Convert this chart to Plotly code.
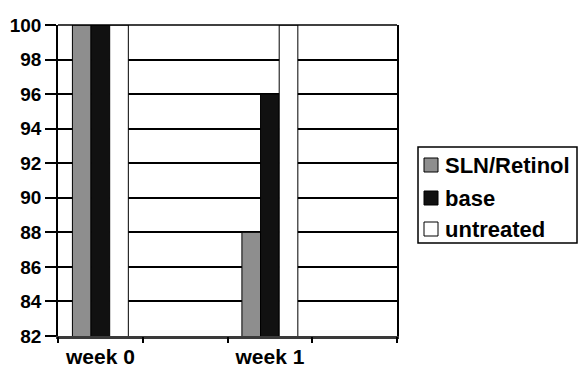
import plotly.graph_objects as go

categories = ["week 0", "", "week 1", ""]
series_names = ["SLN/Retinol", "base", "untreated"]
sln_retinol = [100, None, 88, None]
base = [100, None, 96, None]
untreated = [100, None, 100, None]
y_ticks = [82, 84, 86, 88, 90, 92, 94, 96, 98, 100]

series_colors = ["#8e8e8e", "#111111", "#ffffff"]
positions = list(range(len(categories)))
font_family = "Liberation Sans, Arial, sans-serif"

W, H = 578, 367
ML, MR, MT, MB = 58, 181, 25, 31
PW, PH = W - ML - MR, H - MT - MB


def px_x(p):
    return (p - ML) / PW


def px_y(p):
    return (H - MB - p) / PH


fig = go.Figure()
for name, vals, color in zip(series_names, [sln_retinol, base, untreated], series_colors):
    fig.add_trace(go.Bar(
        x=positions, y=vals, name=name,
        marker=dict(color=color, line=dict(color="#000000", width=1)),
        showlegend=False,
    ))
fig.add_trace(go.Scatter(x=[None], y=[None], xaxis="x2", showlegend=False, hoverinfo="skip"))

# custom legend (box, swatches, labels)
shapes = [dict(type="rect", xref="paper", yref="paper",
               x0=px_x(418), x1=px_x(577), y0=px_y(243), y1=px_y(147),
               line=dict(color="black", width=1.5), fillcolor="white", layer="above")]
annotations = []
row_centers = [165, 198, 229]
for name, color, cy in zip(series_names, series_colors, row_centers):
    shapes.append(dict(type="rect", xref="paper", yref="paper",
                       x0=px_x(424), x1=px_x(438), y0=px_y(cy + 7), y1=px_y(cy - 7),
                       line=dict(color="black", width=1), fillcolor=color, layer="above"))
    annotations.append(dict(xref="paper", yref="paper", x=px_x(443), y=px_y(cy),
                            xanchor="left", yanchor="middle", text=name, showarrow=False,
                            font=dict(size=22, weight="bold", family=font_family, color="black")))

fig.update_layout(
    width=W, height=H,
    margin=dict(l=ML, r=MR, t=MT, b=MB, autoexpand=False),
    paper_bgcolor="white", plot_bgcolor="white",
    barmode="group", bargap=0.34, bargroupgap=0,
    font=dict(family=font_family, size=19, color="black", weight="bold"),
    showlegend=False,
    shapes=shapes, annotations=annotations,
    xaxis=dict(
        range=[-0.5, 3.5], automargin=False,
        tickvals=positions, ticktext=categories,
        showgrid=False, ticks="", showline=True,
        linecolor="#3a3a3a", linewidth=3, mirror=False,
        tickfont=dict(size=21, weight="bold"),
    ),
    xaxis2=dict(
        overlaying="x", anchor="y", side="bottom", automargin=False,
        range=[-0.5, 3.5],
        tickvals=[p - 0.5 for p in positions] + [positions[-1] + 0.5],
        ticktext=[""] * (len(positions) + 1),
        ticks="outside", ticklen=6, tickcolor="black", tickwidth=1.5,
        showgrid=False, showline=False,
    ),
    yaxis=dict(
        range=[82, 100], tickvals=y_ticks, automargin=False,
        showgrid=True, gridcolor="black", gridwidth=1.5,
        ticks="outside", ticklen=11, tickcolor="black", tickwidth=1.5,
        showline=True, linecolor="black", linewidth=1.5, mirror=True,
        zeroline=False,
        tickfont=dict(size=19, weight="bold"),
    ),
)
# top border of the back wall
fig.add_shape(type="line", xref="paper", yref="paper", x0=0, x1=1, y0=1, y1=1,
              line=dict(color="black", width=1.5))

fig.write_html(
    "out.html",
    config={"displayModeBar": False},
    post_script="document.body.style.margin='0';document.body.style.overflow='hidden';",
)
